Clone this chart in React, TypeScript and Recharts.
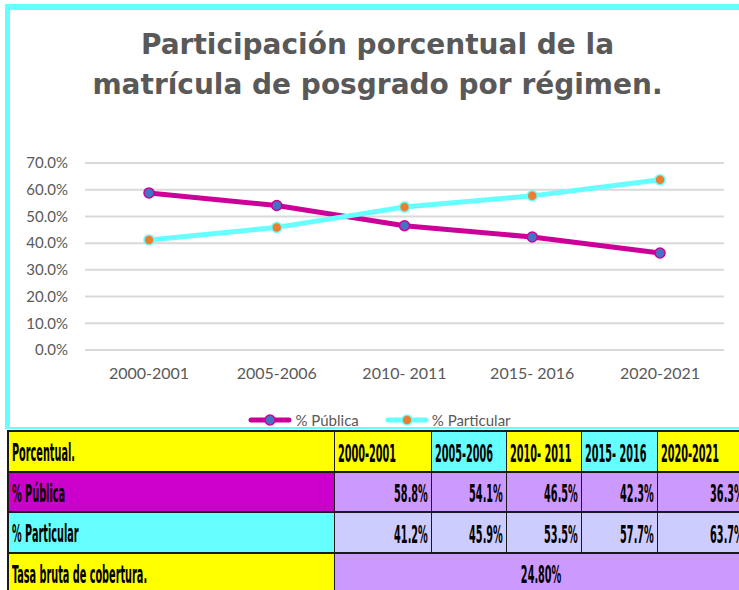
import { CartesianGrid, Legend, Line, LineChart, XAxis, YAxis } from "recharts";

const periodos = ["2000-2001", "2005-2006", "2010- 2011", "2015- 2016", "2020-2021"];
const publica = [58.8, 54.1, 46.5, 42.3, 36.3];
const particular = [41.2, 45.9, 53.5, 57.7, 63.7];
const yTicks = [0, 10, 20, 30, 40, 50, 60, 70];
const tasaBruta = "24.80%";

const data = periodos.map((periodo, i) => ({
  periodo,
  publica: publica[i],
  particular: particular[i],
}));

const series = [
  { key: "publica", name: "% Pública", stroke: "#CC0099", dot: "#4472C4", label: "#CC00CC", cell: "#CC99FF" },
  { key: "particular", name: "% Particular", stroke: "#66FFFF", dot: "#ED7D31", label: "#66FFFF", cell: "#CCCCFF" },
];

const headerColors = ["#FFFF00", "#66FFFF", "#FFFF00", "#66FFFF", "#FFFF00"];

const gray = "#595959";
const axisFont = "Lato, 'Noto Sans', sans-serif";
const tableFont = "'DejaVu Sans Condensed', 'DejaVu Sans', sans-serif";

function LegendContent(props: any) {
  const payload = [...(props.payload ?? [])].sort(
    (a: any, b: any) => series.findIndex((s) => s.key === a.dataKey) - series.findIndex((s) => s.key === b.dataKey)
  );
  return (
    <div style={{ display: "flex", justifyContent: "center", gap: 26, fontFamily: axisFont, fontSize: 15, color: gray }}>
      {payload.map((entry: any) => {
        const s = series.find((x) => x.key === entry.dataKey) ?? series[0];
        return (
          <div key={s.key} style={{ display: "flex", alignItems: "center" }}>
            <svg width={44} height={14}>
              <line x1={3} x2={41} y1={7} y2={7} stroke={s.stroke} strokeWidth={5} strokeLinecap="round" />
              <circle cx={22} cy={7} r={5} fill={s.dot} stroke={s.stroke} strokeWidth={1.5} />
            </svg>
            <span style={{ marginLeft: 3 }}>{entry.value}</span>
          </div>
        );
      })}
    </div>
  );
}

function Cell({ children, bg, align = "left", span, pt = 2 }: { children: any; bg: string; align?: string; span?: number; pt?: number }) {
  const origin = align === "right" ? "right center" : align === "center" ? "center center" : "left center";
  return (
    <div
      style={{
        background: bg,
        display: "flex",
        alignItems: "center",
        justifyContent: align === "right" ? "flex-end" : align === "center" ? "center" : "flex-start",
        padding: `${pt}px 3px 0 3px`,
        gridColumn: span ? `span ${span}` : undefined,
        overflow: "hidden",
        whiteSpace: "nowrap",
      }}
    >
      <span style={{ display: "inline-block", flexShrink: 0, transform: "scale(0.72, 1.6)", transformOrigin: origin }}>
        {children}
      </span>
    </div>
  );
}

function Tabla() {
  return (
    <div
      style={{
        position: "absolute",
        left: 7,
        top: 430,
        display: "grid",
        gridTemplateColumns: "325px 96px 74px 74px 75px 89px",
        gridTemplateRows: "39px 38px 39px 38px",
        columnGap: 1,
        rowGap: 2,
        padding: "2px 0 0 2px",
        background: "#1a1a1a",
        fontFamily: tableFont,
        fontWeight: 700,
        fontSize: 15,
        color: "#000",
      }}
    >
      <Cell bg="#FFFF00">Porcentual.</Cell>
      {periodos.map((p, i) => (
        <Cell key={p} bg={headerColors[i]} pt={4}>
          {p}
        </Cell>
      ))}
      {series.map((s) => {
        const vals = s.key === "publica" ? publica : particular;
        return [
          <Cell key={s.key} bg={s.label} pt={3}>
            {s.name}
          </Cell>,
          ...vals.map((v, i) => (
            <Cell key={s.key + i} bg={s.cell} align="right" pt={4}>
              {v.toFixed(1)}%
            </Cell>
          )),
        ];
      })}
      <Cell bg="#FFFF00" pt={3}>Tasa bruta de cobertura.</Cell>
      <Cell bg="#CC99FF" align="center" span={5} pt={3}>
        {tasaBruta}
      </Cell>
    </div>
  );
}

export default function App() {
  return (
    <div style={{ position: "relative", width: 739, height: 590, overflow: "hidden", background: "#fff" }}>
      <style>{"body{margin:0}"}</style>
      <div
        style={{
          position: "absolute",
          left: 5,
          top: 4,
          width: 800,
          height: 425,
          boxSizing: "border-box",
          borderLeft: "5px solid #66FFFF",
          borderTop: "6px solid #66FFFF",
          borderBottom: "2px solid #66FFFF",
        }}
      />
      <div
        style={{
          position: "absolute",
          left: 0,
          width: 755,
          top: 25,
          textAlign: "center",
          fontFamily: "'DejaVu Sans', sans-serif",
          fontWeight: 700,
          fontSize: 28,
          lineHeight: "40px",
          color: gray,
        }}
      >
        Participación porcentual de la
        <br />
        matrícula de posgrado por régimen.
      </div>
      <div style={{ position: "absolute", left: 0, top: 0 }}>
        <LineChart width={739} height={430} data={data} margin={{ top: 163, right: 15, bottom: 50, left: 0 }}>
          <CartesianGrid vertical={false} stroke="#D9D9D9" strokeWidth={2} />
          <XAxis
            dataKey="periodo"
            height={30}
            padding={{ left: 64, right: 64 }}
            axisLine={false}
            tickLine={false}
            tickSize={0}
            tickMargin={18}
            interval={0}
            tick={{ fill: gray, fontSize: 16, fontFamily: axisFont }}
          />
          <YAxis
            width={85}
            domain={[0, 70]}
            ticks={yTicks}
            axisLine={false}
            tickLine={false}
            tickSize={0}
            tickMargin={17}
            tickFormatter={(v: number) => `${v.toFixed(1)}%`}
            tick={{ fill: gray, fontSize: 15, fontFamily: axisFont }}
          />
          <Legend
            verticalAlign="middle"
            align="center"
            layout="horizontal"
            content={LegendContent}
            wrapperStyle={{ top: 411, left: 10, width: 739, height: 18 }}
          />
          {series.map((s) => (
            <Line
              key={s.key}
              dataKey={s.key}
              name={s.name}
              stroke={s.stroke}
              strokeWidth={5}
              dot={{ r: 5, fill: s.dot, stroke: s.stroke, strokeWidth: 1.5 }}
              activeDot={false}
              isAnimationActive={false}
            />
          ))}
        </LineChart>
      </div>
      <Tabla />
    </div>
  );
}
